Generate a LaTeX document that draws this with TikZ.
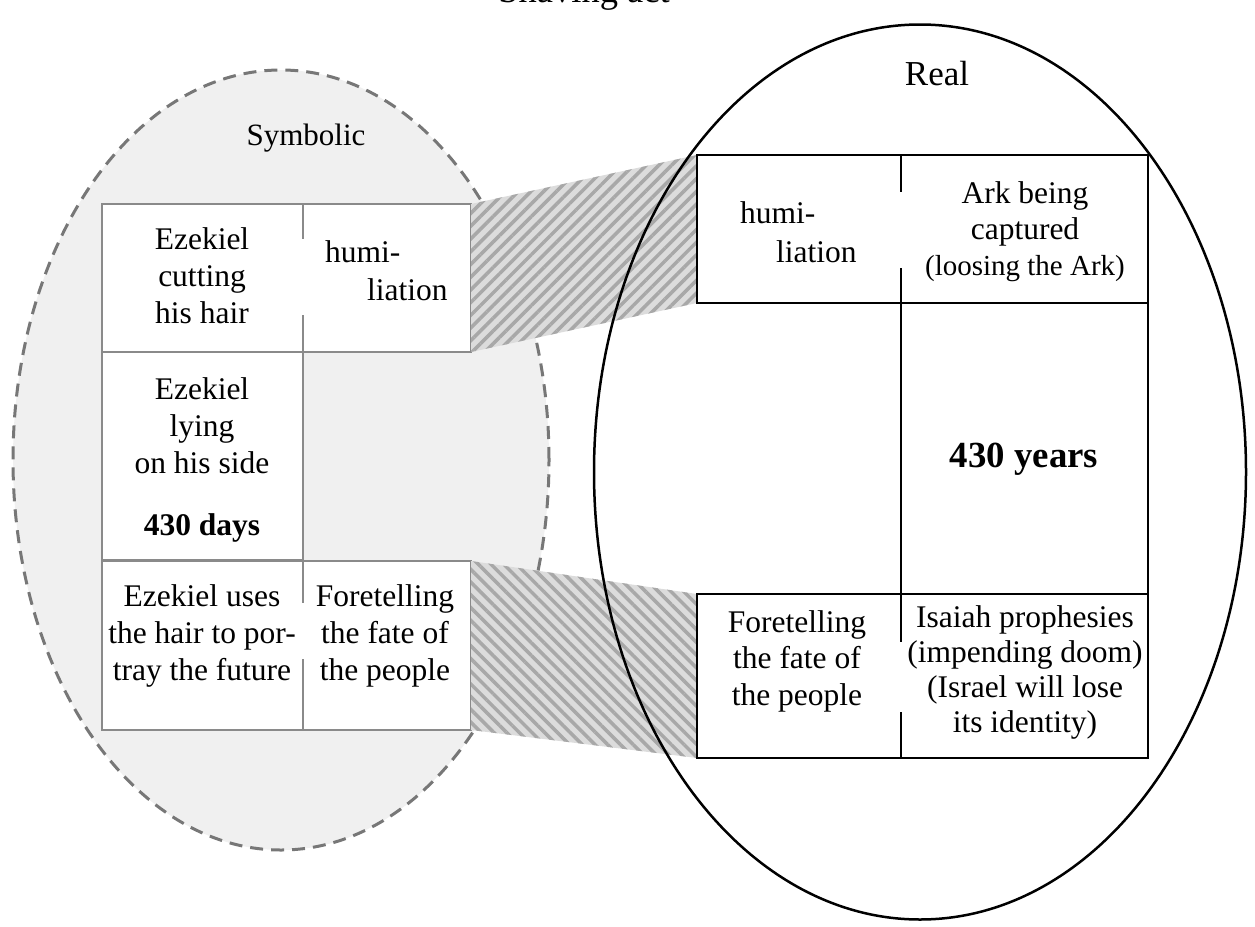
\documentclass[tikz,border=0pt]{standalone}
\usepackage{fontspec}
\setmainfont{Liberation Serif}
\usetikzlibrary{shapes.geometric,patterns.meta}
\definecolor{ellfill}{HTML}{F0F0F0}
\definecolor{dashgray}{HTML}{777777}
\definecolor{lgray}{HTML}{8A8A8A}
\definecolor{hatchbg}{HTML}{DCDCDC}
\definecolor{hatchfg}{HTML}{A8A8A8}
\tikzset{
  cell/.style={rectangle, inner sep=0pt, outer sep=0pt, fill=white, draw=none},
  lline/.style={draw=lgray, line width=1.6pt},
  rline/.style={draw=black, line width=1.8pt},
  txt/.style={align=center, anchor=base, inner sep=0pt, font=\fontsize{31.5}{36.7}\selectfont},
  hatchNE/.style={fill=hatchbg, postaction={pattern={Lines[angle=45,distance=9pt,line width=3.5pt]}, pattern color=hatchfg}},
  hatchNW/.style={fill=hatchbg, postaction={pattern={Lines[angle=-45,distance=9pt,line width=3.5pt]}, pattern color=hatchfg}},
}
\begin{document}
\begin{tikzpicture}[x=1pt,y=-1pt]
\useasboundingbox (0,0) rectangle (1255,926);
\clip (0,0) rectangle (1255,926);

% title
\node[txt, font=\fontsize{36.5}{40}\selectfont] (title) at (584,2) {Shaving act};

% symbolic ellipse
\node[ellipse, minimum width=536pt, minimum height=780pt, inner sep=0pt, draw=dashgray, line width=3pt, dash pattern=on 13pt off 8pt, fill=ellfill] (sym) at (281,460) {};
\node[txt, font=\fontsize{31}{36}\selectfont] (symlabel) at (306,145) {Symbolic};

% left cells
\node[cell, minimum width=201pt, minimum height=148pt] (L1a) at (202.5,278) {};
\node[cell, minimum width=168pt, minimum height=148pt] (L1b) at (387,278) {};
\node[cell, minimum width=201pt, minimum height=208pt] (L2a) at (202.5,456) {};
\node[cell, minimum width=201pt, minimum height=169pt] (L3a) at (202.5,645.5) {};
\node[cell, minimum width=168pt, minimum height=169pt] (L3b) at (387,645.5) {};

\draw[lline] (L1a.north west) rectangle (L1b.south east);
\draw[lline] (L1a.north east) -- ++(0,35);
\draw[lline] (L1a.south east) -- ++(0,-37);
\draw[lline] (L2a.north west) rectangle (L2a.south east);
\draw[lline] (L3a.north west) rectangle (L3b.south east);
\draw[lline] (L3a.north east) -- ++(0,42);
\draw[lline] (L3a.south east) -- ++(0,-71);

% right cells (positions)
\node[cell, minimum width=204pt, minimum height=148pt] (R1a) at (799,229) {};
\node[cell, minimum width=247pt, minimum height=148pt] (R1b) at (1024.5,229) {};
\node[cell, minimum width=247pt, minimum height=291pt] (R2b) at (1024.5,448.5) {};
\node[cell, minimum width=204pt, minimum height=164pt] (R3a) at (799,676) {};
\node[cell, minimum width=247pt, minimum height=164pt] (R3b) at (1024.5,676) {};

% hatched links
\path[hatchNE] (L1b.north east) -- (R1a.north west) -- (R1a.south west) -- (L1b.south east) -- cycle;
\path[hatchNW] (L3b.north east) -- (R3a.north west) -- (R3a.south west) -- (L3b.south east) -- cycle;

% real ellipse
\node[ellipse, minimum width=652pt, minimum height=895pt, inner sep=0pt, draw=black, line width=2.5pt] (real) at (920,472) {};
\node[txt, font=\fontsize{35}{40}\selectfont] (reallabel) at (937,85) {Real};

\draw[rline] (R1a.north west) rectangle (R1b.south east);
\draw[rline] (R1a.north east) -- ++(0,37);
\draw[rline] (R1a.south east) -- ++(0,-35);
\draw[rline] (R2b.north west) rectangle (R2b.south east);
\draw[rline] (R3a.north west) rectangle (R3b.south east);
\draw[rline] (R3a.north east) -- ++(0,48);
\draw[rline] (R3a.south east) -- ++(0,-46);

% texts left (anchor = baseline of last line)
\node[txt] (tEzCut) at (202,323) {Ezekiel\\cutting\\his hair};
\node[txt, align=left, anchor=base west, font=\fontsize{31.5}{38}\selectfont] (tHum1) at (325,300) {humi-\\\hspace*{42pt}liation};
\node[txt] (tEzLie) at (202,535) {Ezekiel\\lying\\on his side\\[25pt]\textbf{430 days}};
\node[txt] (tEzUse) at (202,680) {Ezekiel uses\\the hair to por-\\tray the future};
\node[txt] (tFore1) at (385,680) {Foretelling\\the fate of\\the people};

% texts right
\node[txt, align=left, anchor=base west, font=\fontsize{31.5}{39}\selectfont] (tHum2) at (740,262) {humi-\\\hspace*{36pt}liation};
\node[txt, font=\fontsize{31.5}{36}\selectfont] (tArk) at (1025,275) {Ark being\\captured\\{\fontsize{29}{35}\selectfont (loosing the Ark)}};
\node[txt, font=\fontsize{36.8}{40}\selectfont\bfseries] (tYears) at (1024,467) {430 years};
\node[txt, font=\fontsize{31.5}{36.5}\selectfont] (tFore2) at (797,705) {Foretelling\\the fate of\\the people};
\node[txt, font=\fontsize{31.5}{35}\selectfont] (tIsaiah) at (1025,732) {Isaiah prophesies\\(impending doom)\\(Israel will lose\\its identity)};
\end{tikzpicture}
\end{document}
